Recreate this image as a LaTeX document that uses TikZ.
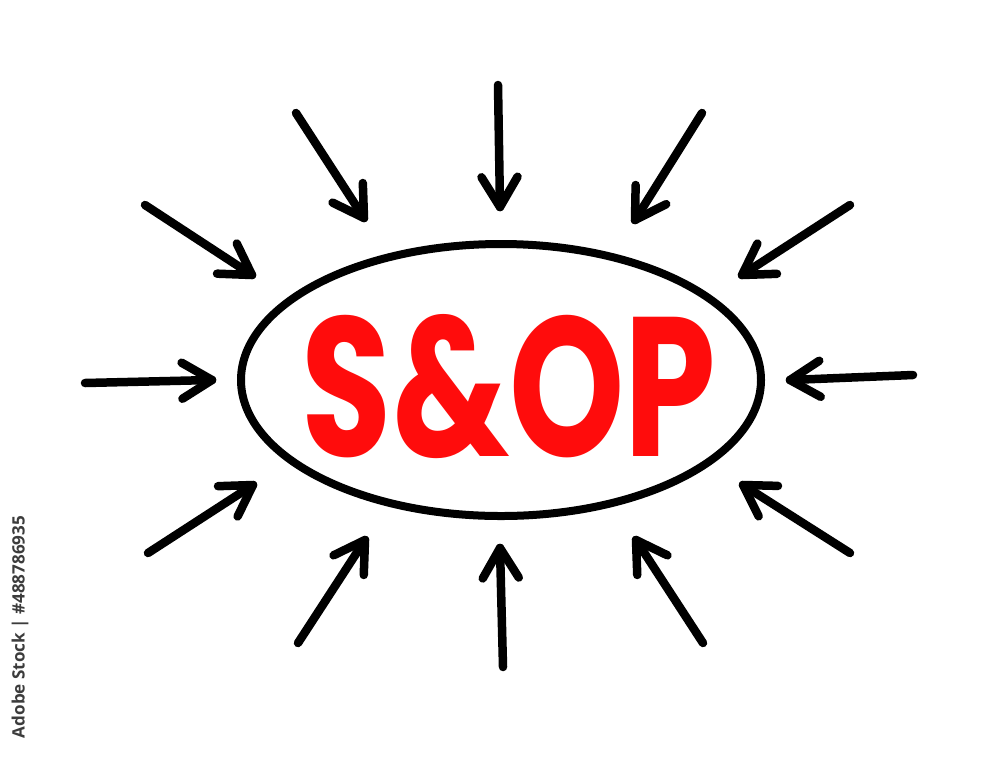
\documentclass[tikz,border=0pt]{standalone}
\usepackage{fontspec}
\usetikzlibrary{shapes.geometric,calc}
\newfontfamily\markerfont{Poppins}
\newfontfamily\wmfont{Open Sans}
\definecolor{markred}{RGB}{255,12,12}
\definecolor{wmgray}{RGB}{60,60,60}
\tikzset{
  arr/.style={line width=8.5pt, line cap=round, line join=round, black},
  ring/.style={ellipse, draw, line width=8pt, inner sep=0pt, minimum width=520pt, minimum height=272pt},
}
\begin{document}
\begin{tikzpicture}[x=1pt,y=-1pt]
\useasboundingbox (0,0) rectangle (1000,756);
\fill[white] (0,0) rectangle (1000,756);
\node[ring] (e) at (501,380) {};
\node[inner sep=0pt, text=markred] (t) at (509,387) {\resizebox{414pt}{142pt}{\markerfont\bfseries S\&OP}};
\foreach \i/\sx/\sy/\tx/\ty in {
  1/498/85/500/207,
  2/296/113/364/218,
  3/702/113/635/220,
  4/145/205/252/275,
  5/850/205/742/275,
  6/85/383/212/380,
  7/913/375/790/380,
  8/148/553/253/485,
  9/850/553/743/485,
  10/298/643/365/540,
  11/503/667/500/548,
  12/703/643/636/540}{
  \coordinate (s\i) at (\sx,\sy);
  \coordinate (h\i) at (\tx,\ty);
  \draw[arr] (s\i) -- (h\i);
  \draw[arr] ($(h\i)!35pt!31:(s\i)$) -- (h\i) -- ($(h\i)!35pt!-31:(s\i)$);
}
\node[rotate=90, inner sep=0pt, text=wmgray] (wm) at (20,627) {\resizebox{222pt}{!}{\wmfont\bfseries Adobe Stock | \#488786935}};
\end{tikzpicture}
\end{document}
